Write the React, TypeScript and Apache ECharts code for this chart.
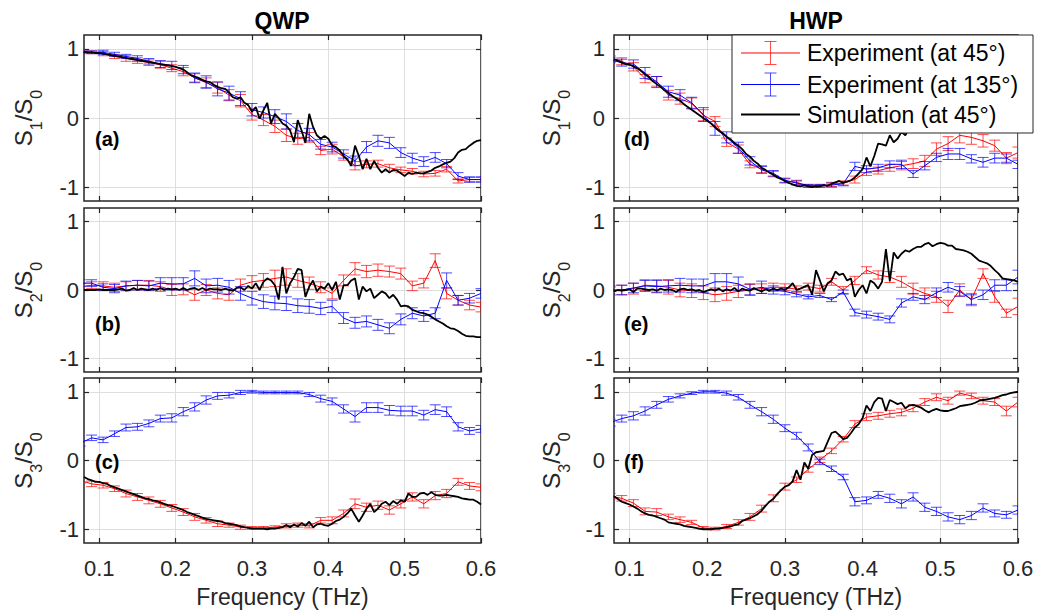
import React, { useEffect, useRef } from 'react';
import * as echarts from 'echarts';

// ---------------- data ----------------
const expFreq = [0.075, 0.09, 0.105, 0.12, 0.135, 0.15, 0.165, 0.18, 0.195, 0.21, 0.225, 0.24, 0.255, 0.27, 0.285, 0.3, 0.315, 0.33, 0.345, 0.36, 0.375, 0.39, 0.405, 0.42, 0.435, 0.45, 0.465, 0.48, 0.495, 0.51, 0.525, 0.54, 0.555, 0.57, 0.585, 0.6];

const simFreq = [0.08, 0.085, 0.09, 0.095, 0.1, 0.105, 0.11, 0.115, 0.12, 0.125,
  0.13, 0.135, 0.14, 0.145, 0.15, 0.155, 0.16, 0.165, 0.17, 0.175,
  0.18, 0.185, 0.19, 0.195, 0.2, 0.205, 0.21, 0.215, 0.22, 0.225,
  0.23, 0.235, 0.24, 0.245, 0.25, 0.255, 0.26, 0.265, 0.27, 0.275,
  0.28, 0.285, 0.29, 0.295, 0.3, 0.305, 0.31, 0.315, 0.32, 0.325,
  0.33, 0.335, 0.34, 0.345, 0.35, 0.355, 0.36, 0.365, 0.37, 0.375,
  0.38, 0.385, 0.39, 0.395, 0.4, 0.405, 0.41, 0.415, 0.42, 0.425,
  0.43, 0.435, 0.44, 0.445, 0.45, 0.455, 0.46, 0.465, 0.47, 0.475,
  0.48, 0.485, 0.49, 0.495, 0.5, 0.505, 0.51, 0.515, 0.52, 0.525,
  0.53, 0.535, 0.54, 0.545, 0.55, 0.555, 0.56, 0.565, 0.57, 0.575,
  0.58, 0.585, 0.59, 0.595, 0.6];

// (a) QWP S1/S0
const aRed = [0.96, 0.95, 0.93, 0.89, 0.86, 0.83, 0.80, 0.77, 0.72, 0.67, 0.58, 0.51, 0.44, 0.33, 0.25, 0.05, -0.03, -0.12, -0.25, -0.30, -0.28, -0.47, -0.45, -0.56, -0.69, -0.67, -0.66, -0.72, -0.75, -0.77, -0.81, -0.80, -0.74, -0.91, -0.89, -0.89];
const aRedErr = [0.02, 0.02, 0.03, 0.03, 0.04, 0.04, 0.04, 0.05, 0.05, 0.06, 0.06, 0.07, 0.08, 0.08, 0.09, 0.08, 0.08, 0.09, 0.09, 0.08, 0.07, 0.06, 0.07, 0.05, 0.06, 0.05, 0.05, 0.05, 0.04, 0.04, 0.04, 0.04, 0.04, 0.03, 0.03, 0.03];
const aBlue = [0.95, 0.95, 0.95, 0.92, 0.89, 0.86, 0.82, 0.78, 0.76, 0.70, 0.58, 0.52, 0.42, 0.36, 0.28, 0.12, 0.08, 0.02, -0.05, -0.18, -0.24, -0.38, -0.42, -0.52, -0.62, -0.42, -0.33, -0.36, -0.50, -0.58, -0.63, -0.57, -0.66, -0.84, -0.89, -0.89];
const aBlueErr = [0.02, 0.02, 0.03, 0.03, 0.03, 0.04, 0.04, 0.05, 0.06, 0.06, 0.07, 0.09, 0.10, 0.10, 0.10, 0.09, 0.08, 0.10, 0.11, 0.10, 0.09, 0.07, 0.07, 0.06, 0.07, 0.08, 0.08, 0.08, 0.07, 0.07, 0.07, 0.07, 0.06, 0.05, 0.04, 0.04];
const aSim = [0.96, 0.95, 0.95, 0.94, 0.94, 0.93, 0.92, 0.91, 0.90, 0.89,
  0.88, 0.87, 0.86, 0.85, 0.84, 0.83, 0.82, 0.81, 0.80, 0.79,
  0.78, 0.77, 0.76, 0.75, 0.74, 0.72, 0.70, 0.66, 0.62, 0.60,
  0.58, 0.55, 0.53, 0.52, 0.48, 0.45, 0.43, 0.42, 0.37, 0.30,
  0.28, 0.30, 0.22, 0.19, 0.09, 0.16, -0.01, 0.11, 0.22, -0.08,
  0.06, 0.0, -0.08, -0.11, -0.18, -0.35, -0.03, -0.18, -0.36, 0.06,
  -0.13, -0.25, -0.30, -0.26, -0.30, -0.40, -0.42, -0.47, -0.55, -0.60,
  -0.69, -0.40, -0.55, -0.74, -0.59, -0.74, -0.62, -0.72, -0.79, -0.74,
  -0.79, -0.75, -0.76, -0.80, -0.84, -0.79, -0.81, -0.79, -0.80, -0.80,
  -0.78, -0.76, -0.72, -0.70, -0.67, -0.65, -0.63, -0.58, -0.50, -0.46,
  -0.45, -0.40, -0.36, -0.33, -0.32];

// (b) QWP S2/S0
const bRed = [0.05, 0.07, 0.06, 0.04, 0.06, 0.07, 0.07, 0.05, 0.0, 0.01, -0.07, 0.0, -0.05, -0.07, 0.07, 0.12, 0.14, 0.17, 0.19, 0.14, 0.10, 0.04, -0.05, 0.14, 0.31, 0.27, 0.29, 0.27, 0.24, 0.06, 0.10, 0.43, -0.05, -0.15, -0.22, -0.25];
const bRedErr = [0.05, 0.05, 0.06, 0.06, 0.06, 0.07, 0.07, 0.07, 0.08, 0.08, 0.08, 0.08, 0.08, 0.08, 0.09, 0.09, 0.10, 0.12, 0.12, 0.10, 0.09, 0.08, 0.08, 0.08, 0.09, 0.09, 0.09, 0.08, 0.08, 0.07, 0.07, 0.10, 0.08, 0.07, 0.07, 0.07];
const bBlue = [0.10, 0.10, 0.04, 0.02, 0.06, 0.07, 0.06, 0.10, 0.09, 0.09, 0.17, 0.06, 0.07, 0.04, -0.05, -0.12, -0.17, -0.19, -0.20, -0.23, -0.24, -0.27, -0.24, -0.41, -0.48, -0.46, -0.51, -0.56, -0.43, -0.34, -0.38, -0.34, 0.14, -0.15, -0.12, -0.05];
const bBlueErr = [0.05, 0.05, 0.05, 0.06, 0.07, 0.07, 0.07, 0.08, 0.09, 0.09, 0.11, 0.10, 0.10, 0.10, 0.10, 0.10, 0.10, 0.10, 0.10, 0.10, 0.10, 0.09, 0.09, 0.08, 0.08, 0.08, 0.08, 0.08, 0.08, 0.08, 0.08, 0.08, 0.11, 0.07, 0.07, 0.07];
const bSim = [0.0, 0.0, 0.0, 0.0, 0.01, 0.0, 0.0, 0.0, 0.0, 0.01,
  0.02, -0.01, 0.0, 0.03, 0.0, 0.02, 0.01, 0.0, 0.02, 0.0,
  0.03, 0.0, 0.02, 0.01, 0.02, 0.0, 0.03, 0.0, 0.02, 0.03,
  0.0, 0.03, 0.0, 0.02, 0.01, 0.01, 0.0, 0.02, 0.0, -0.01,
  0.03, 0.04, 0.0, 0.06, 0.02, 0.10, 0.0, 0.12, 0.17, 0.14,
  0.07, -0.14, 0.34, -0.05, 0.10, 0.19, 0.31, 0.29, -0.10, 0.05,
  0.14, -0.02, 0.05, 0.02, 0.10, 0.0, 0.12, -0.14, 0.07, 0.07,
  0.14, 0.17, -0.14, 0.05, -0.02, 0.02, -0.12, -0.07, -0.02, -0.05,
  -0.12, -0.07, -0.14, -0.24, -0.23, -0.24, -0.29, -0.31, -0.33, -0.34,
  -0.36, -0.39, -0.43, -0.46, -0.49, -0.53, -0.56, -0.57, -0.60, -0.64,
  -0.67, -0.68, -0.68, -0.69, -0.69];

// (c) QWP S3/S0
const cRed = [-0.29, -0.34, -0.36, -0.41, -0.48, -0.53, -0.58, -0.63, -0.69, -0.75, -0.82, -0.87, -0.92, -0.94, -0.97, -0.98, -0.98, -0.97, -0.95, -0.94, -0.95, -0.87, -0.87, -0.77, -0.63, -0.68, -0.65, -0.72, -0.63, -0.53, -0.63, -0.51, -0.48, -0.31, -0.37, -0.39];
const cRedErr = [0.04, 0.04, 0.04, 0.04, 0.05, 0.05, 0.05, 0.05, 0.05, 0.05, 0.05, 0.04, 0.04, 0.03, 0.03, 0.02, 0.02, 0.02, 0.03, 0.03, 0.03, 0.04, 0.05, 0.05, 0.07, 0.06, 0.06, 0.06, 0.06, 0.06, 0.06, 0.06, 0.06, 0.05, 0.05, 0.05];
const cBlue = [0.25, 0.33, 0.30, 0.39, 0.48, 0.49, 0.54, 0.61, 0.62, 0.71, 0.78, 0.88, 0.94, 0.95, 0.99, 1.0, 0.99, 0.99, 0.99, 0.99, 0.96, 0.90, 0.86, 0.75, 0.64, 0.77, 0.77, 0.73, 0.72, 0.72, 0.66, 0.74, 0.71, 0.49, 0.43, 0.46];
const cBlueErr = [0.04, 0.04, 0.04, 0.04, 0.05, 0.05, 0.05, 0.05, 0.06, 0.06, 0.06, 0.06, 0.05, 0.04, 0.03, 0.02, 0.02, 0.02, 0.02, 0.02, 0.03, 0.05, 0.05, 0.06, 0.08, 0.07, 0.07, 0.07, 0.07, 0.07, 0.07, 0.07, 0.07, 0.06, 0.05, 0.05];
const cSim = [-0.24, -0.27, -0.29, -0.31, -0.31, -0.33, -0.34, -0.37, -0.39, -0.41,
  -0.43, -0.45, -0.47, -0.49, -0.51, -0.53, -0.55, -0.56, -0.58, -0.59,
  -0.61, -0.63, -0.65, -0.66, -0.68, -0.70, -0.72, -0.75, -0.77, -0.79,
  -0.81, -0.83, -0.85, -0.86, -0.87, -0.88, -0.89, -0.91, -0.92, -0.93,
  -0.94, -0.96, -0.97, -0.98, -0.99, -0.99, -0.99, -0.99, -1.0, -0.99,
  -0.99, -0.98, -0.97, -0.94, -0.97, -0.93, -0.96, -0.91, -0.95, -0.89,
  -0.97, -0.93, -0.92, -0.94, -0.95, -0.92, -0.88, -0.86, -0.82, -0.77,
  -0.70, -0.80, -0.89, -0.80, -0.70, -0.63, -0.75, -0.70, -0.63, -0.60,
  -0.65, -0.59, -0.63, -0.58, -0.60, -0.48, -0.53, -0.53, -0.48, -0.47,
  -0.50, -0.46, -0.50, -0.51, -0.51, -0.50, -0.51, -0.52, -0.53, -0.55,
  -0.56, -0.57, -0.57, -0.60, -0.64];

// (d) HWP S1/S0
const dRed = [0.86, 0.82, 0.74, 0.57, 0.53, 0.33, 0.28, 0.21, 0.04, -0.05, -0.35, -0.45, -0.67, -0.74, -0.81, -0.91, -0.93, -0.98, -0.98, -0.96, -0.94, -0.89, -0.78, -0.76, -0.72, -0.69, -0.66, -0.62, -0.45, -0.37, -0.25, -0.28, -0.33, -0.40, -0.58, -0.50];
const dRedErr = [0.04, 0.05, 0.06, 0.06, 0.07, 0.07, 0.08, 0.08, 0.08, 0.07, 0.06, 0.06, 0.05, 0.05, 0.04, 0.03, 0.03, 0.02, 0.02, 0.03, 0.03, 0.05, 0.05, 0.05, 0.05, 0.06, 0.07, 0.08, 0.09, 0.10, 0.11, 0.10, 0.09, 0.08, 0.08, 0.08];
const dBlue = [0.84, 0.80, 0.78, 0.65, 0.52, 0.38, 0.33, 0.22, 0.05, -0.15, -0.28, -0.43, -0.62, -0.75, -0.80, -0.90, -0.94, -0.98, -0.98, -0.97, -0.95, -0.70, -0.74, -0.72, -0.67, -0.67, -0.81, -0.69, -0.57, -0.52, -0.52, -0.59, -0.64, -0.58, -0.58, -0.67];
const dBlueErr = [0.04, 0.05, 0.06, 0.08, 0.08, 0.08, 0.08, 0.08, 0.10, 0.10, 0.08, 0.08, 0.06, 0.05, 0.04, 0.03, 0.03, 0.02, 0.02, 0.03, 0.03, 0.06, 0.05, 0.05, 0.05, 0.06, 0.05, 0.06, 0.06, 0.08, 0.08, 0.06, 0.07, 0.07, 0.06, 0.06];
const dSim = [0.85, 0.83, 0.80, 0.78, 0.77, 0.75, 0.72, 0.68, 0.63, 0.59,
  0.53, 0.49, 0.45, 0.40, 0.36, 0.32, 0.28, 0.25, 0.20, 0.16,
  0.12, 0.08, 0.04, 0.0, -0.04, -0.08, -0.13, -0.18, -0.22, -0.27,
  -0.31, -0.36, -0.40, -0.45, -0.52, -0.56, -0.62, -0.66, -0.72, -0.75,
  -0.79, -0.82, -0.86, -0.88, -0.91, -0.94, -0.96, -0.98, -0.99, -0.97,
  -0.99, -1.0, -0.99, -0.99, -0.97, -0.98, -0.95, -0.93, -0.91, -0.94,
  -0.92, -0.90, -0.86, -0.80, -0.74, -0.57, -0.70, -0.55, -0.37, -0.38,
  -0.40, -0.25, -0.35, -0.30, -0.20, -0.25, -0.15, -0.05, 0.05, 0.10,
  0.12, 0.15, 0.18, 0.20, 0.22, 0.25, 0.25, 0.26, 0.25, 0.24,
  0.22, 0.20, 0.18, 0.15, 0.12, 0.10, 0.08, 0.05, 0.02, 0.0,
  -0.02, -0.05, -0.08, -0.10, -0.12];

// (e) HWP S2/S0
const eRed = [-0.02, 0.0, 0.02, 0.07, 0.06, 0.04, 0.0, -0.01, -0.04, -0.07, -0.05, -0.02, 0.0, 0.02, 0.04, 0.04, 0.01, 0.05, 0.02, 0.12, 0.0, 0.14, 0.29, 0.22, 0.19, 0.12, 0.02, -0.05, -0.10, -0.24, 0.0, -0.14, 0.24, -0.10, -0.34, -0.24];
const eRedErr = [0.06, 0.07, 0.08, 0.08, 0.09, 0.10, 0.10, 0.10, 0.10, 0.10, 0.10, 0.09, 0.08, 0.07, 0.06, 0.05, 0.05, 0.05, 0.05, 0.05, 0.05, 0.06, 0.05, 0.06, 0.08, 0.08, 0.08, 0.08, 0.08, 0.09, 0.09, 0.09, 0.07, 0.08, 0.06, 0.12];
const eBlue = [0.0, 0.0, 0.03, 0.06, 0.05, 0.06, 0.07, 0.06, 0.06, 0.12, 0.12, 0.09, 0.01, 0.04, 0.0, -0.02, -0.06, -0.10, -0.08, -0.14, -0.03, -0.33, -0.36, -0.39, -0.43, -0.19, -0.10, -0.14, -0.04, 0.04, -0.02, -0.14, -0.07, 0.07, 0.07, 0.19];
const eBlueErr = [0.06, 0.07, 0.07, 0.08, 0.09, 0.09, 0.10, 0.10, 0.10, 0.12, 0.12, 0.10, 0.08, 0.09, 0.06, 0.05, 0.04, 0.03, 0.03, 0.03, 0.03, 0.05, 0.05, 0.05, 0.05, 0.06, 0.05, 0.06, 0.07, 0.07, 0.07, 0.07, 0.07, 0.08, 0.08, 0.10];
const eSim = [-0.02, 0.0, -0.01, 0.0, 0.01, -0.03, 0.02, 0.02, 0.01, 0.0,
  0.01, -0.01, 0.02, 0.0, 0.01, 0.0, -0.03, 0.01, 0.02, 0.0,
  0.01, -0.01, 0.0, -0.03, -0.01, 0.01, -0.01, 0.02, -0.02, 0.01,
  -0.01, 0.03, -0.02, 0.02, 0.0, -0.01, 0.03, 0.0, -0.02, 0.01,
  -0.01, 0.02, 0.0, 0.02, 0.0, 0.04, 0.10, 0.0, 0.02, 0.05,
  0.07, -0.07, 0.29, 0.14, -0.02, 0.10, 0.14, 0.27, 0.22, 0.24,
  0.14, 0.17, -0.10, 0.0, 0.07, -0.05, 0.14, 0.10, 0.02, 0.12,
  0.60, 0.13, 0.55, 0.46, 0.53, 0.58, 0.56, 0.60, 0.63, 0.63,
  0.67, 0.69, 0.64, 0.67, 0.69, 0.68, 0.65, 0.65, 0.60, 0.59,
  0.58, 0.56, 0.53, 0.48, 0.43, 0.41, 0.39, 0.35, 0.29, 0.24,
  0.17, 0.16, 0.15, 0.14, 0.12];

// (f) HWP S3/S0
const fRed = [-0.52, -0.55, -0.62, -0.74, -0.75, -0.82, -0.86, -0.90, -0.98, -0.99, -0.96, -0.90, -0.82, -0.70, -0.55, -0.38, -0.28, -0.13, 0.01, 0.14, 0.31, 0.53, 0.63, 0.65, 0.68, 0.70, 0.76, 0.85, 0.92, 0.87, 0.98, 0.94, 0.87, 0.85, 0.72, 0.85];
const fRedErr = [0.04, 0.04, 0.05, 0.05, 0.05, 0.04, 0.04, 0.03, 0.02, 0.02, 0.03, 0.04, 0.05, 0.05, 0.05, 0.05, 0.04, 0.04, 0.04, 0.04, 0.04, 0.05, 0.05, 0.05, 0.05, 0.05, 0.05, 0.05, 0.05, 0.05, 0.03, 0.04, 0.05, 0.05, 0.07, 0.07];
const fBlue = [0.55, 0.61, 0.65, 0.72, 0.81, 0.89, 0.94, 0.98, 1.0, 1.0, 0.98, 0.92, 0.81, 0.71, 0.60, 0.47, 0.36, 0.19, -0.02, -0.12, -0.24, -0.60, -0.58, -0.50, -0.55, -0.63, -0.53, -0.68, -0.74, -0.82, -0.86, -0.80, -0.69, -0.77, -0.79, -0.72];
const fBlueErr = [0.05, 0.05, 0.06, 0.06, 0.05, 0.04, 0.03, 0.02, 0.02, 0.02, 0.03, 0.04, 0.05, 0.06, 0.06, 0.05, 0.05, 0.05, 0.04, 0.04, 0.04, 0.06, 0.05, 0.05, 0.06, 0.06, 0.06, 0.06, 0.06, 0.06, 0.06, 0.06, 0.06, 0.05, 0.05, 0.06];
const fSim = [-0.52, -0.56, -0.60, -0.62, -0.64, -0.67, -0.70, -0.74, -0.77, -0.79,
  -0.80, -0.82, -0.84, -0.86, -0.90, -0.91, -0.92, -0.93, -0.95, -0.96,
  -0.97, -0.98, -0.99, -1.0, -1.0, -1.0, -0.99, -0.99, -0.98, -0.97,
  -0.96, -0.94, -0.93, -0.88, -0.86, -0.84, -0.81, -0.78, -0.73, -0.66,
  -0.60, -0.56, -0.49, -0.43, -0.38, -0.36, -0.30, -0.14, -0.28, -0.03,
  -0.12, 0.08, 0.12, 0.13, 0.14, 0.27, 0.40, 0.42, 0.37, 0.31,
  0.33, 0.40, 0.48, 0.53, 0.62, 0.80, 0.72, 0.85, 0.91, 0.90,
  0.72, 0.88, 0.85, 0.82, 0.84, 0.76, 0.80, 0.81, 0.79, 0.77,
  0.73, 0.70, 0.73, 0.75, 0.73, 0.72, 0.72, 0.74, 0.76, 0.79,
  0.80, 0.81, 0.82, 0.84, 0.87, 0.88, 0.89, 0.90, 0.91, 0.93,
  0.95, 0.96, 0.98, 0.99, 1.0];

const xTicks = [0.1, 0.2, 0.3, 0.4, 0.5, 0.6];
const yTicks = [-1, 0, 1];
const columnTitles = ['QWP', 'HWP'];
const panelLetters = ['(a)', '(b)', '(c)', '(d)', '(e)', '(f)'];
const stokesIdx = ['1', '2', '3'];
const xAxisTitle = 'Frequency (THz)';
const legendNames = ['Experiment (at 45°)', 'Experiment (at 135°)', 'Simulation (at 45°)'];

// ---------------- styling / layout ----------------
const FONT = '"Liberation Sans", Arial, Helvetica, sans-serif';
const TXT = '#262626';
const RED = '#ff0000';
const BLUE = '#0000ff';
const colLeft = [84, 614];
const colWidth = [397, 404];
const rowTop = [35, 208, 378];
const rowHeight = [166, 164, 165];
const yNameGap = [40, 42];
const yLabelMargin = [5, 9];

const panelData = [
  { red: aRed, redErr: aRedErr, blue: aBlue, blueErr: aBlueErr, sim: aSim },
  { red: bRed, redErr: bRedErr, blue: bBlue, blueErr: bBlueErr, sim: bSim },
  { red: cRed, redErr: cRedErr, blue: cBlue, blueErr: cBlueErr, sim: cSim },
  { red: dRed, redErr: dRedErr, blue: dBlue, blueErr: dBlueErr, sim: dSim },
  { red: eRed, redErr: eRedErr, blue: eBlue, blueErr: eBlueErr, sim: eSim },
  { red: fRed, redErr: fRedErr, blue: fBlue, blueErr: fBlueErr, sim: fSim },
];
const letterPos = [
  [95, 139], [95, 324], [95, 462],
  [624, 139], [624, 324], [624, 462],
];

function errRenderer(color: string) {
  return (params: any, api: any) => {
    const x = api.value(0);
    const y = api.value(1);
    const e = api.value(2);
    const p1 = api.coord([x, y + e]);
    const p2 = api.coord([x, y - e]);
    const hw = 5.5;
    const style = { stroke: color, lineWidth: 1, opacity: 0.7 };
    return {
      type: 'group',
      children: [
        { type: 'line', shape: { x1: p1[0], y1: p1[1], x2: p2[0], y2: p2[1] }, style },
        { type: 'line', shape: { x1: p1[0] - hw, y1: p1[1], x2: p1[0] + hw, y2: p1[1] }, style },
        { type: 'line', shape: { x1: p2[0] - hw, y1: p2[1], x2: p2[0] + hw, y2: p2[1] }, style },
      ],
    };
  };
}

function buildOption() {
  const grid: any[] = [];
  const xAxis: any[] = [];
  const yAxis: any[] = [];
  const series: any[] = [];
  const graphic: any[] = [];

  for (let i = 0; i < 6; i++) {
    const col = Math.floor(i / 3);
    const row = i % 3;
    grid.push({
      left: colLeft[col], top: rowTop[row], width: colWidth[col], height: rowHeight[row],
      show: true, borderColor: TXT, borderWidth: 1.5, backgroundColor: 'transparent',
      containLabel: false,
    });
    const tickStyle = { color: TXT, width: 1.2 };
    xAxis.push({
      type: 'value', gridIndex: i, min: 0.08, max: 0.6, position: 'bottom',
      axisLine: { show: false, onZero: false },
      axisTick: { show: true, inside: true, length: 5, customValues: xTicks, lineStyle: tickStyle },
      axisLabel: {
        show: row === 2, customValues: xTicks, formatter: (v: number) => v.toFixed(1),
        fontSize: 22, color: TXT, fontFamily: FONT, margin: 14,
      },
      splitLine: { show: true, lineStyle: { color: '#dedede', width: 1 } },
      name: row === 2 ? xAxisTitle : '', nameLocation: 'middle', nameGap: 42,
      nameTextStyle: { fontSize: 23, color: TXT, fontFamily: FONT },
    });
    xAxis.push({
      type: 'value', gridIndex: i, min: 0.08, max: 0.6, position: 'top',
      axisLine: { show: false, onZero: false },
      axisTick: { show: true, inside: true, length: 5, customValues: xTicks, lineStyle: tickStyle },
      axisLabel: { show: false, customValues: xTicks },
      splitLine: { show: false },
    });
    yAxis.push({
      type: 'value', gridIndex: i, min: -1.2, max: 1.2, position: 'left',
      axisLine: { show: false, onZero: false },
      axisTick: { show: true, inside: true, length: 5, customValues: yTicks, lineStyle: tickStyle },
      axisLabel: {
        show: true, customValues: yTicks, formatter: (v: number) => String(Math.round(v)),
        fontSize: 22, color: TXT, fontFamily: FONT, margin: yLabelMargin[col],
      },
      splitLine: { show: true, lineStyle: { color: '#dedede', width: 1 } },
      name: `{m|S}{s|${stokesIdx[row]}}{m|/S}{s|0}`,
      nameLocation: 'middle', nameRotate: 90, nameGap: yNameGap[col],
      nameTextStyle: {
        color: TXT, fontFamily: FONT,
        rich: {
          m: { fontSize: 24, color: TXT, fontFamily: FONT },
          s: { fontSize: 16, color: TXT, fontFamily: FONT, padding: [26, 0, 0, 0] },
        },
      },
    });
    yAxis.push({
      type: 'value', gridIndex: i, min: -1.2, max: 1.2, position: 'right',
      axisLine: { show: false, onZero: false },
      axisTick: { show: true, inside: true, length: 5, customValues: yTicks, lineStyle: tickStyle },
      axisLabel: { show: false, customValues: yTicks },
      splitLine: { show: false },
    });

    const d = panelData[i];
    const xi = 2 * i;
    const yi = 2 * i;
    series.push({
      type: 'line', name: legendNames[0], xAxisIndex: xi, yAxisIndex: yi,
      data: expFreq.map((f, k) => [f, d.red[k]]),
      showSymbol: false, symbol: 'none', lineStyle: { color: RED, width: 1 }, itemStyle: { color: RED },
      z: 2, silent: true,
    });
    series.push({
      type: 'custom', name: legendNames[0], xAxisIndex: xi, yAxisIndex: yi,
      data: expFreq.map((f, k) => [f, d.red[k], d.redErr[k]]),
      renderItem: errRenderer(RED), clip: true, z: 2, silent: true,
      encode: { x: 0, y: 1 }, itemStyle: { color: RED },
    });
    series.push({
      type: 'line', name: legendNames[1], xAxisIndex: xi, yAxisIndex: yi,
      data: expFreq.map((f, k) => [f, d.blue[k]]),
      showSymbol: false, symbol: 'none', lineStyle: { color: BLUE, width: 1 }, itemStyle: { color: BLUE },
      z: 3, silent: true,
    });
    series.push({
      type: 'custom', name: legendNames[1], xAxisIndex: xi, yAxisIndex: yi,
      data: expFreq.map((f, k) => [f, d.blue[k], d.blueErr[k]]),
      renderItem: errRenderer(BLUE), clip: true, z: 3, silent: true,
      encode: { x: 0, y: 1 }, itemStyle: { color: BLUE },
    });
    series.push({
      type: 'line', name: legendNames[2], xAxisIndex: xi, yAxisIndex: yi,
      data: simFreq.map((f, k) => [f, d.sim[k]]),
      showSymbol: false, symbol: 'none', lineStyle: { color: '#000000', width: 1.8 }, itemStyle: { color: '#000' },
      z: 4, silent: true,
    });

    graphic.push({
      type: 'text', x: letterPos[i][0], y: letterPos[i][1], z: 50,
      style: {
        text: panelLetters[i], fill: '#000', fontSize: 20, fontWeight: 'bold', fontFamily: FONT,
        verticalAlign: 'middle', textVerticalAlign: 'middle',
      },
    });
  }

  // legend box (in panel d)
  const lx = 732, ly = 35, lw = 301, lh = 98;
  const rows = [53, 84.5, 114.5];
  const lineX1 = 741, lineX2 = 800, barX = 770.5, barHalf = 11.5, capHalf = 6;
  graphic.push({
    type: 'rect', z: 100, shape: { x: lx, y: ly, width: lw, height: lh },
    style: { fill: '#ffffff', stroke: TXT, lineWidth: 1 },
  });
  const legColors = [RED, BLUE, '#000000'];
  for (let r = 0; r < 3; r++) {
    const yy = rows[r];
    graphic.push({
      type: 'line', z: 101, shape: { x1: lineX1, y1: yy, x2: lineX2, y2: yy },
      style: { stroke: legColors[r], lineWidth: r === 2 ? 2 : 1 },
    });
    if (r < 2) {
      const st = { stroke: legColors[r], lineWidth: 1, opacity: 0.7 };
      graphic.push({ type: 'line', z: 101, shape: { x1: barX, y1: yy - barHalf, x2: barX, y2: yy + barHalf }, style: st });
      graphic.push({ type: 'line', z: 101, shape: { x1: barX - capHalf, y1: yy - barHalf, x2: barX + capHalf, y2: yy - barHalf }, style: st });
      graphic.push({ type: 'line', z: 101, shape: { x1: barX - capHalf, y1: yy + barHalf, x2: barX + capHalf, y2: yy + barHalf }, style: st });
    }
    graphic.push({
      type: 'text', z: 101, x: 807, y: yy,
      style: {
        text: legendNames[r], fill: '#000', fontSize: 23, fontFamily: FONT,
        verticalAlign: 'middle', textVerticalAlign: 'middle',
      },
    });
  }

  return {
    animation: false,
    backgroundColor: '#ffffff',
    title: [
      { text: columnTitles[0], left: 282, top: 9, textAlign: 'center', padding: 0,
        textStyle: { fontSize: 23, fontWeight: 'bold', color: '#000', fontFamily: FONT } },
      { text: columnTitles[1], left: 816, top: 9, textAlign: 'center', padding: 0,
        textStyle: { fontSize: 23, fontWeight: 'bold', color: '#000', fontFamily: FONT } },
    ],
    grid, xAxis, yAxis, series, graphic,
  };
}

export default function App() {
  const ref = useRef<HTMLDivElement>(null);
  useEffect(() => {
    if (!ref.current) return;
    const chart = echarts.init(ref.current, undefined, { renderer: 'svg' });
    chart.setOption(buildOption() as any);
    return () => chart.dispose();
  }, []);
  return <div ref={ref} style={{ width: 1037, height: 611, position: 'absolute', left: 0, top: 0 }} />;
}
